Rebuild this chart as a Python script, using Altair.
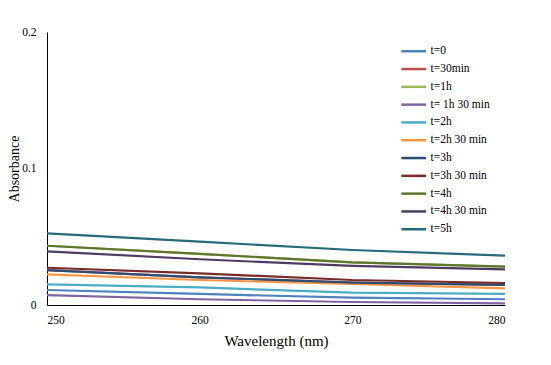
import altair as alt
import pandas as pd

wavelengths = [250, 260, 270, 280]
series = ["t=0", "t=30min", "t=1h", "t= 1h 30 min", "t=2h", "t=2h 30 min",
          "t=3h", "t=3h 30 min", "t=4h", "t=4h 30 min", "t=5h"]
colors = ["#4F81BD", "#C0504D", "#9BBB59", "#8064A2", "#4BACC6", "#F79646",
          "#2C4D75", "#772C2A", "#5F7530", "#4D3B62", "#276A7C"]
values = [
    [0.0110, 0.0081, 0.0054, 0.0042],   # t=0
    [0.0256, 0.0203, 0.0164, 0.0147],   # t=30min (hidden under others)
    [0.0434, 0.0374, 0.0313, 0.0281],   # t=1h (hidden under others)
    [0.0073, 0.0042, 0.0022, 0.0012],   # t=1h30
    [0.0151, 0.0129, 0.0090, 0.0081],   # t=2h
    [0.0225, 0.0183, 0.0154, 0.0122],   # t=2h30
    [0.0256, 0.0203, 0.0164, 0.0147],   # t=3h
    [0.0273, 0.0232, 0.0183, 0.0161],   # t=3h30
    [0.0434, 0.0374, 0.0313, 0.0281],   # t=4h
    [0.0393, 0.0335, 0.0286, 0.0261],   # t=4h30
    [0.0525, 0.0464, 0.0403, 0.0361],   # t=5h
]

rows = []
for i, (s, vals) in enumerate(zip(series, values)):
    for w, v in zip(wavelengths, vals):
        rows.append({"series": s, "order": i, "wl": w, "abs": v})
df = pd.DataFrame(rows)

font = "Liberation Serif, Times New Roman, serif"

chart = alt.Chart(df).mark_line(strokeWidth=2.2).encode(
    x=alt.X("wl:Q", title="Wavelength (nm)",
            scale=alt.Scale(domain=[250, 280], nice=False),
            axis=alt.Axis(values=[250, 260, 270, 280], grid=False, ticks=False,
                          labelPadding=9, titlePadding=8, labelFontSize=11.5,
                          labelFont=font, titleFont=font,
                          titleFontSize=15, titleFontWeight="normal")),
    y=alt.Y("abs:Q", title="Absorbance",
            scale=alt.Scale(domain=[0, 0.2], nice=False),
            axis=alt.Axis(values=[0, 0.1, 0.2], format="~g", grid=False, ticks=False,
                          labelPadding=11, labelFontSize=11.5,
                          labelFont=font, titleFont=font,
                          titleX=-32.5, titleY=136.5, titleAngle=270,
                          titleAlign="center", titleBaseline="middle",
                          titleFontSize=14, titleFontWeight="normal")),
    color=alt.Color("series:N", sort=series,
                    scale=alt.Scale(domain=series, range=colors),
                    legend=alt.Legend(title=None, orient="none", legendX=361, legendY=13.5,
                                      symbolType="M-3.1,0H3.1", symbolSize=64,
                                      symbolStrokeWidth=2.5, labelFontSize=11.5,
                                      labelFont=font, rowPadding=4.8, padding=0,
                                      labelOffset=11, labelColor="black")),
    order=alt.Order("order:Q"),
    detail="series:N",
).properties(
    width=458, height=273,
    autosize=alt.AutoSizeParams(type="none"),
    padding={"left": 39, "top": 24, "right": 38, "bottom": 52},
).configure(font=font).configure_view(stroke=None).configure_axis(
    labelFont=font, titleFont=font, domainColor="black", domainWidth=1,
    labelColor="black", titleColor="black"
)

chart.save("out.html", embed_options={"renderer": "svg", "actions": False})
